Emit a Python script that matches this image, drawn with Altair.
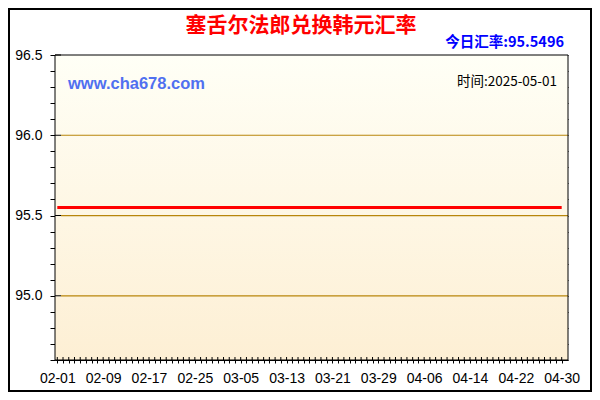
import altair as alt
import pandas as pd
import json

# ---- data ----
start_date = "2025-02-01"
days = list(range(89))  # 2025-02-01 .. 2025-04-30
rates = [
    95.5496, 95.5496, 95.5496, 95.5496, 95.5496, 95.5496, 95.5496, 95.5496, 95.5496, 95.5496,
    95.5496, 95.5496, 95.5496, 95.5496, 95.5496, 95.5496, 95.5496, 95.5496, 95.5496, 95.5496,
    95.5496, 95.5496, 95.5496, 95.5496, 95.5496, 95.5496, 95.5496, 95.5496, 95.5496, 95.5496,
    95.5496, 95.5496, 95.5496, 95.5496, 95.5496, 95.5496, 95.5496, 95.5496, 95.5496, 95.5496,
    95.5496, 95.5496, 95.5496, 95.5496, 95.5496, 95.5496, 95.5496, 95.5496, 95.5496, 95.5496,
    95.5496, 95.5496, 95.5496, 95.5496, 95.5496, 95.5496, 95.5496, 95.5496, 95.5496, 95.5496,
    95.5496, 95.5496, 95.5496, 95.5496, 95.5496, 95.5496, 95.5496, 95.5496, 95.5496, 95.5496,
    95.5496, 95.5496, 95.5496, 95.5496, 95.5496, 95.5496, 95.5496, 95.5496, 95.5496, 95.5496,
    95.5496, 95.5496, 95.5496, 95.5496, 95.5496, 95.5496, 95.5496, 95.5496, 95.5496,
]
x_tick_labels = ["02-01", "02-09", "02-17", "02-25", "03-05", "03-13",
                 "03-21", "03-29", "04-06", "04-14", "04-22", "04-30"]
y_ticks = [94.6, 94.7, 94.8, 94.9, 95.0, 95.1, 95.2, 95.3, 95.4, 95.5,
           95.6, 95.7, 95.8, 95.9, 96.0, 96.1, 96.2, 96.3, 96.4, 96.5]
y_labeled = [95.0, 95.5, 96.0, 96.5]
grid_values = [95.0, 95.5, 96.0]

title_text = "塞舌尔法郎兑换韩元汇率"
rate_text = "今日汇率:95.5496"
site_text = "www.cha678.com"
time_text = "时间:2025-05-01"

df = pd.DataFrame({"day": days, "rate": rates})
grid_df = pd.DataFrame({"v": grid_values})
major_df = pd.DataFrame({"v": y_labeled})
one = pd.DataFrame({"a": [0]})

W, H = 513, 305
PL, PT, PR, PB = 47, 47, 24, 32

xscale = alt.Scale(domain=[-0.4, 89.1], nice=False, zero=False)
yscale = alt.Scale(domain=[94.6, 96.5], nice=False, zero=False)

x_label_expr = ("datum.value % 8 == 0 ? " + json.dumps(x_tick_labels, ensure_ascii=False)
                + "[datum.value / 8] : ''")
y_label_expr = ("(" + " || ".join("abs(datum.value - %s) < 0.001" % v for v in y_labeled)
                + ") ? format(datum.value, '.1f') : ''")

axis_font = "Liberation Sans"

bg = alt.Chart(one).mark_rect(
    fill=alt.Gradient(
        gradient="linear",
        stops=[alt.GradientStop(color="#FFFFF6", offset=0),
               alt.GradientStop(color="#FDEFD4", offset=1)],
        x1=0, x2=0, y1=0, y2=1,
    )
).encode(x=alt.value(0), x2=alt.value(W), y=alt.value(0), y2=alt.value(H))

grid = alt.Chart(grid_df).mark_rule(color="#B8860B", strokeWidth=1.2).encode(
    y=alt.Y("v:Q", scale=yscale, axis=None),
    x=alt.value(6), x2=alt.value(W),
)

# inner part of the major left ticks
major_in = alt.Chart(major_df).mark_rule(color="#000000", strokeWidth=1).encode(
    y=alt.Y("v:Q", scale=yscale, axis=None),
    x=alt.value(0), x2=alt.value(6),
)

# inner part of the bottom ticks
bottom_in = alt.Chart(df).mark_rule(color="#000000", strokeWidth=1).encode(
    x=alt.X("day:Q", scale=xscale, axis=None),
    y=alt.value(H - 3), y2=alt.value(H),
)

line = alt.Chart(df).mark_line(color="#FF0000", strokeWidth=3).encode(
    x=alt.X("day:Q", scale=xscale, title=None,
            axis=alt.Axis(orient="bottom", values=days, labelExpr=x_label_expr,
                          tickSize=3, labelPadding=8, labelFont=axis_font,
                          labelFontSize=14, labelColor="#000000", tickColor="#000000",
                          domainColor="#000000", labelOverlap=False, labelFlush=False,
                          grid=False)),
    y=alt.Y("rate:Q", scale=yscale, title=None,
            axis=alt.Axis(orient="left", values=y_ticks, labelExpr=y_label_expr,
                          tickSize=5, labelPadding=8, labelFont=axis_font,
                          labelFontSize=14, labelColor="#000000", tickColor="#000000",
                          domainColor="#000000", labelOverlap=False, labelFlush=False,
                          grid=False)),
)

sec = alt.Chart(df).mark_line(opacity=0).encode(
    x=alt.X("day:Q", scale=xscale, title=None,
            axis=alt.Axis(orient="top", values=days, labels=False, tickSize=4,
                          offset=-4, domain=False, tickColor="#000000", grid=False)),
    y=alt.Y("rate:Q", scale=yscale, title=None,
            axis=alt.Axis(orient="right", values=y_ticks, labels=False, tickSize=5,
                          offset=-5, domain=False, tickColor="#000000", grid=False)),
)

frame = alt.Chart(one).mark_rect(fillOpacity=0, stroke="#000000", strokeWidth=1).encode(
    x=alt.value(0), x2=alt.value(W), y=alt.value(0), y2=alt.value(H))

outer = alt.Chart(one).mark_rect(fillOpacity=0, stroke="#000000", strokeWidth=2).encode(
    x=alt.value(-PL + 1), x2=alt.value(W + PR - 1),
    y=alt.value(-PT + 1), y2=alt.value(H + PB - 1))

title = alt.Chart(one).mark_text(
    text=title_text, font="Noto Sans CJK SC", fontSize=21, fontWeight="bold",
    color="#FF0000", align="center", baseline="middle",
).encode(x=alt.value(246), y=alt.value(-29))

rate_lbl = alt.Chart(one).mark_text(
    text=rate_text, font="Noto Sans CJK SC", fontSize=14.5, fontWeight="bold",
    color="#0000FF", align="right", baseline="middle",
).encode(x=alt.value(509), y=alt.value(-12))

site_lbl = alt.Chart(one).mark_text(
    text=site_text, font="Liberation Sans", fontSize=16.5, fontWeight="bold",
    color="#5070F0", align="left", baseline="middle",
).encode(x=alt.value(13), y=alt.value(29))

time_lbl = alt.Chart(one).mark_text(
    text=time_text, font="Noto Sans CJK SC", fontSize=13.5,
    color="#000000", align="right", baseline="middle",
).encode(x=alt.value(502), y=alt.value(27))

chart = alt.layer(bg, grid, major_in, bottom_in, line, sec, frame, outer,
                  title, rate_lbl, site_lbl, time_lbl).resolve_axis(
    x="independent", y="independent"
).properties(
    width=W, height=H,
    padding={"left": PL, "top": PT, "right": PR, "bottom": PB},
    autosize=alt.AutoSizeParams(type="none"),
    background="#FFFFFF",
).configure_view(stroke=None)

chart.save("out.html", embed_options={"renderer": "svg", "actions": False})
